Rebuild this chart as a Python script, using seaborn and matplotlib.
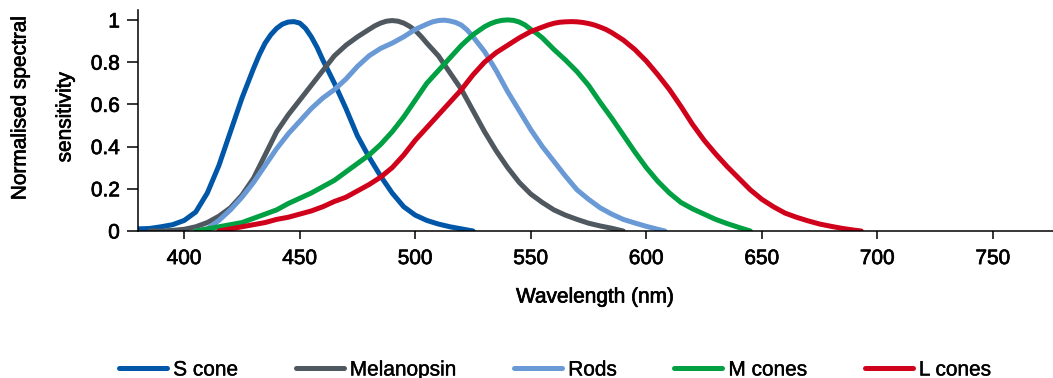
import matplotlib
matplotlib.use("Agg")
import matplotlib.pyplot as plt
import matplotlib.patheffects as pe
import numpy as np
import pandas as pd
import seaborn as sns

# Normalised spectral sensitivity curves of the human photoreceptors
s_cone_wl = [380, 385, 390, 395, 400, 405, 410, 415, 420, 425, 427.5, 430, 432.5, 435, 437.5, 440,
             442.5, 445, 447.5, 450, 452.5, 455, 457.5, 460, 465, 470, 475, 480, 485, 490, 495,
             500, 505, 510, 515, 520, 525]
s_cone = [0.01, 0.012, 0.02, 0.03, 0.05, 0.09, 0.18, 0.31, 0.47, 0.63, 0.70, 0.77, 0.835, 0.89,
          0.93, 0.96, 0.98, 0.99, 0.992, 0.985, 0.96, 0.92, 0.87, 0.81, 0.70, 0.58, 0.45, 0.35,
          0.26, 0.18, 0.115, 0.075, 0.05, 0.033, 0.02, 0.01, 0.0]

melanopsin_wl = [385, 390, 395, 400, 405, 410, 415, 420, 425, 430, 435, 440, 445, 450, 455, 460,
                 465, 470, 475, 480, 482.5, 485, 487.5, 490, 492.5, 495, 497.5, 500, 502.5, 505,
                 510, 515, 520, 525, 530, 535, 540, 545, 550, 555, 560, 565, 570, 575, 580, 585,
                 590]
melanopsin = [0.0, 0.0, 0.003, 0.008, 0.02, 0.04, 0.07, 0.11, 0.17, 0.25, 0.36, 0.47, 0.55, 0.62,
              0.69, 0.76, 0.83, 0.88, 0.92, 0.955, 0.972, 0.985, 0.994, 0.997, 0.994, 0.985,
              0.97, 0.95, 0.922, 0.89, 0.83, 0.75, 0.67, 0.57, 0.47, 0.38, 0.30, 0.23, 0.175,
              0.135, 0.10, 0.075, 0.055, 0.037, 0.024, 0.013, 0.0]

rods_wl = [405, 410, 415, 420, 425, 430, 435, 440, 445, 450, 455, 460, 465, 470, 475, 480, 485,
           490, 495, 500, 505, 507.5, 510, 512.5, 515, 517.5, 520, 522.5, 525, 530, 535, 540, 545,
           550, 555, 560, 565, 570, 575, 580, 585, 590, 595, 600, 605, 608]
rods = [0.0, 0.01, 0.05, 0.10, 0.16, 0.23, 0.31, 0.39, 0.46, 0.52, 0.58, 0.63, 0.67, 0.72, 0.78,
        0.83, 0.865, 0.89, 0.92, 0.955, 0.98, 0.991, 0.997, 0.999, 0.995, 0.988, 0.975, 0.952,
        0.92, 0.85, 0.76, 0.66, 0.57, 0.48, 0.40, 0.33, 0.26, 0.195, 0.15, 0.11, 0.08, 0.055,
        0.038, 0.022, 0.008, 0.0]

m_cones_wl = [405, 410, 415, 420, 425, 430, 435, 440, 445, 450, 455, 460, 465, 470, 475, 480, 485,
              490, 495, 500, 505, 510, 515, 520, 525, 530, 532.5, 535, 537.5, 540, 542.5, 545,
              547.5, 550, 552.5, 555, 560, 565, 570, 575, 580, 585, 590, 595, 600, 605, 610, 615,
              620, 625, 630, 635, 640, 645]
m_cones = [0.0, 0.01, 0.02, 0.03, 0.04, 0.06, 0.08, 0.10, 0.13, 0.155, 0.18, 0.21, 0.24, 0.28,
           0.32, 0.36, 0.41, 0.47, 0.54, 0.62, 0.70, 0.76, 0.82, 0.88, 0.93, 0.968, 0.982, 0.992,
           0.998, 1.0, 0.998, 0.99, 0.976, 0.955, 0.937, 0.915, 0.86, 0.81, 0.755, 0.69, 0.61,
           0.535, 0.455, 0.375, 0.30, 0.235, 0.18, 0.135, 0.105, 0.08, 0.055, 0.035, 0.017, 0.0]

l_cones_wl = [415, 420, 425, 430, 435, 440, 445, 450, 455, 460, 465, 470, 475, 480, 485, 490, 495,
              500, 505, 510, 515, 520, 525, 530, 535, 540, 545, 550, 555, 557.5, 560, 562.5, 565,
              567.5, 570, 572.5, 575, 577.5, 580, 582.5, 585, 590, 595, 600, 605, 610, 615, 620,
              625, 630, 635, 640, 645, 650, 655, 660, 665, 670, 675, 680, 685, 690, 693]
l_cones = [0.0, 0.01, 0.02, 0.03, 0.04, 0.055, 0.065, 0.08, 0.095, 0.115, 0.14, 0.16, 0.19, 0.22,
           0.255, 0.30, 0.36, 0.43, 0.49, 0.55, 0.61, 0.67, 0.74, 0.80, 0.845, 0.88, 0.915, 0.945,
           0.966, 0.976, 0.984, 0.989, 0.991, 0.992, 0.991, 0.988, 0.983, 0.976, 0.966, 0.955,
           0.94, 0.905, 0.86, 0.805, 0.74, 0.67, 0.59, 0.505, 0.43, 0.365, 0.305, 0.25, 0.195,
           0.15, 0.115, 0.085, 0.065, 0.048, 0.033, 0.022, 0.012, 0.004, 0.0]

series_names = ["S cone", "Melanopsin", "Rods", "M cones", "L cones"]
series_colors = ["#0057A8", "#4F575F", "#6A9AD6", "#00A043", "#D0021B"]
x_ticks = [400, 450, 500, 550, 600, 650, 700, 750]
y_ticks = [0, 0.2, 0.4, 0.6, 0.8, 1]
y_tick_labels = ["0", "0.2", "0.4", "0.6", "0.8", "1"]

frames = []
for name, wl, val in zip(series_names,
                         [s_cone_wl, melanopsin_wl, rods_wl, m_cones_wl, l_cones_wl],
                         [s_cone, melanopsin, rods, m_cones, l_cones]):
    frames.append(pd.DataFrame({"wavelength": wl, "sensitivity": val, "receptor": name}))
df = pd.concat(frames, ignore_index=True)

sns.set_style("ticks")
plt.rcParams["font.family"] = ["Liberation Sans", "DejaVu Sans"]
plt.rcParams["text.color"] = "black"
plt.rcParams["axes.labelcolor"] = "black"
plt.rcParams["xtick.color"] = "black"
plt.rcParams["ytick.color"] = "black"

# a thin outline gives the labels a slightly heavier weight
heavy = [pe.withStroke(linewidth=0.5, foreground="black")]

fig = plt.figure(figsize=(10.53, 3.78), dpi=100)
ax = fig.add_axes([138 / 1053, 1 - 231 / 378, 1 - 138 / 1053, 221 / 378])

sns.lineplot(data=df, x="wavelength", y="sensitivity", hue="receptor",
             hue_order=series_names, palette=dict(zip(series_names, series_colors)),
             estimator=None, sort=False, linewidth=3.6, ax=ax, legend=False)
for line in ax.lines:
    line.set_solid_capstyle("round")
    line.set_solid_joinstyle("round")

ax.set_xlim(380, 776)
ax.set_ylim(0, 1.047)
ax.set_xticks(x_ticks)
ax.set_yticks(y_ticks)
ax.set_yticklabels(y_tick_labels)
ax.tick_params(axis="x", length=6, width=1.1, pad=7, labelsize=15)
ax.tick_params(axis="y", length=8, width=1.1, pad=5, labelsize=15)
for lab in ax.get_xticklabels() + ax.get_yticklabels():
    lab.set_path_effects(heavy)
for side in ["left", "bottom"]:
    ax.spines[side].set_linewidth(1.1)
    ax.spines[side].set_color("black")
sns.despine(ax=ax)

ax.set_xlabel("Wavelength (nm)", fontsize=15, labelpad=14, path_effects=heavy)
ax.set_ylabel("")

fig.text(20 / 1053, 1 - 108 / 378, "Normalised spectral", rotation=90,
         ha="center", va="center", fontsize=15, path_effects=heavy)
fig.text(65 / 1053, 1 - 117 / 378, "sensitivity", rotation=90,
         ha="center", va="center", fontsize=15, path_effects=heavy)

handles = [plt.Line2D([], [], color=c, linewidth=3.6, solid_capstyle="round")
           for c in series_colors]
leg = fig.legend(handles, series_names, loc="center left",
                 bbox_to_anchor=(119 / 1053, 1 - 370 / 378),
                 ncol=5, frameon=False, fontsize=15, handlelength=2.3, handletextpad=0.3,
                 columnspacing=2.75, borderpad=0, borderaxespad=0)
for t in leg.get_texts():
    t.set_path_effects([pe.withStroke(linewidth=0.3, foreground="black")])

fig.savefig("out.png", dpi=100)
